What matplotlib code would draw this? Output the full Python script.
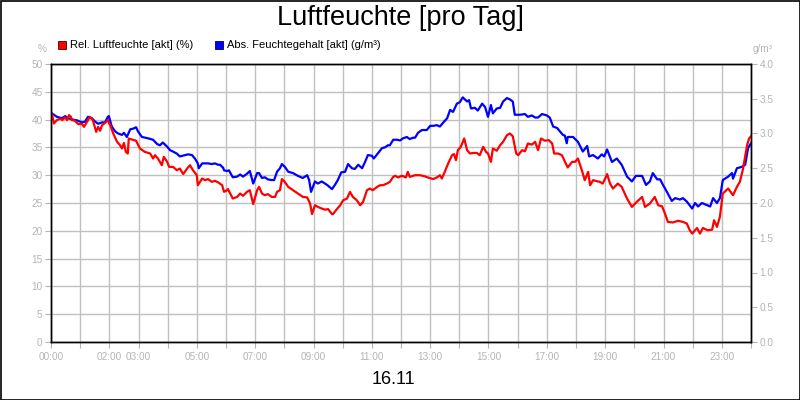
import matplotlib
matplotlib.use("Agg")
import matplotlib.pyplot as plt
from matplotlib.patches import Rectangle
import numpy as np

plt.rcParams['font.family'] = ['Liberation Sans', 'DejaVu Sans']

# ---- data (time in minutes after midnight) ----
red_min = [0, 2, 6, 12, 19, 23, 29, 33, 37, 41, 43, 49, 56, 64, 68, 76, 80, 86, 93, 97,
           101, 105, 111, 117, 123, 128, 136, 142, 146, 150, 154, 158, 160, 167, 175, 183,
           193, 204, 210, 214, 220, 228, 232, 239, 243, 251, 259, 265, 272, 280, 286, 292,
           300, 302, 311, 317, 323, 331, 337, 344, 352, 356, 362, 364, 374, 383, 389, 395,
           403, 409, 416, 424, 428, 434, 440, 446, 454, 461, 465, 471, 475, 481, 488, 498,
           508, 518, 527, 533, 537, 543, 549, 557, 564, 570, 578, 580, 588, 595, 601, 609,
           615, 621, 629, 636, 642, 650, 656, 662, 671, 677, 683, 691, 697, 704, 708, 714,
           722, 730, 734, 738, 749, 759, 769, 775, 786, 794, 800, 804, 810, 817, 825, 829,
           833, 837, 843, 850, 856, 862, 868, 876, 882, 889, 895, 899, 905, 909, 917, 924,
           930, 938, 944, 950, 957, 961, 969, 975, 981, 989, 996, 1002, 1008, 1016, 1024,
           1031, 1035, 1043, 1051, 1059, 1063, 1072, 1078, 1084, 1092, 1098, 1105, 1109,
           1115, 1129, 1135, 1140, 1144, 1150, 1156, 1166, 1174, 1185, 1195, 1205, 1216,
           1222, 1232, 1242, 1249, 1257, 1263, 1269, 1279, 1290, 1300, 1308, 1314, 1319,
           1329, 1335, 1341, 1351, 1360, 1364, 1370, 1376, 1382, 1393, 1403, 1411, 1417,
           1423, 1432, 1436, 1440]
red_val = [40.6, 41.0, 39.3, 39.9, 40.2, 39.9, 40.4, 39.9, 40.8, 40.5, 39.9, 39.8, 39.2, 39.2,
           38.7, 39.9, 40.5, 39.9, 37.8, 38.7, 38.0, 39.0, 39.4, 39.9, 38.7, 37.5, 36.0, 35.4,
           34.8, 35.8, 34.2, 33.9, 36.6, 36.4, 36.2, 34.8, 34.2, 33.9, 33.0, 33.6, 33.0, 31.8,
           33.3, 32.4, 31.5, 31.5, 30.9, 31.2, 30.2, 31.2, 31.8, 30.9, 30.0, 28.2, 29.4, 29.1,
           29.3, 28.8, 29.0, 28.7, 28.2, 27.0, 27.3, 27.5, 25.8, 26.1, 26.7, 26.3, 27.0, 27.3,
           24.8, 27.3, 27.9, 26.7, 26.4, 26.6, 26.1, 26.1, 27.0, 27.3, 29.3, 28.8, 27.9, 27.3,
           26.7, 26.1, 26.0, 24.9, 23.0, 24.6, 24.3, 24.0, 23.8, 23.9, 23.0, 23.0, 23.9, 24.6,
           25.5, 25.8, 27.0, 26.1, 25.5, 24.6, 25.2, 27.3, 27.6, 27.3, 27.9, 28.2, 28.2, 28.5,
           28.8, 29.7, 29.9, 29.6, 29.9, 29.6, 30.6, 29.7, 30.0, 30.0, 29.8, 29.6, 29.3, 29.6,
           30.0, 29.4, 30.6, 32.1, 33.6, 33.8, 32.7, 34.5, 35.1, 36.6, 34.5, 33.9, 34.0, 34.0,
           33.6, 35.1, 34.2, 33.9, 32.4, 34.8, 34.4, 35.4, 36.0, 37.2, 37.5, 37.0, 33.9, 33.6,
           34.5, 34.3, 35.7, 35.5, 36.0, 34.5, 36.6, 36.2, 36.3, 35.7, 33.9, 33.9, 33.6, 32.1,
           31.4, 32.4, 32.4, 33.0, 30.9, 29.1, 30.6, 28.2, 29.1, 28.8, 28.5, 29.4, 30.2, 28.5,
           27.6, 28.5, 27.9, 25.8, 24.3, 25.2, 26.1, 24.3, 24.9, 26.1, 24.6, 24.4, 23.1, 21.6,
           21.5, 21.8, 21.6, 21.3, 20.1, 19.5, 20.5, 19.5, 20.5, 20.1, 20.2, 21.9, 20.7, 22.5,
           26.7, 27.6, 26.4, 27.9, 28.8, 30.9, 35.4, 36.6, 37.0]

blue_min = [0, 2, 12, 23, 29, 35, 45, 53, 64, 70, 76, 84, 91, 97, 105, 111, 117, 119, 125,
            132, 138, 146, 150, 156, 163, 169, 175, 179, 187, 200, 210, 218, 224, 230, 239,
            245, 251, 259, 265, 276, 282, 290, 296, 302, 304, 311, 317, 323, 331, 337, 344,
            348, 352, 354, 356, 362, 366, 374, 383, 389, 395, 403, 409, 416, 424, 428, 434,
            440, 446, 454, 459, 465, 471, 475, 481, 488, 498, 508, 518, 527, 531, 535, 543,
            549, 557, 568, 578, 584, 590, 597, 605, 611, 619, 625, 632, 640, 646, 652, 660,
            664, 673, 681, 687, 693, 697, 704, 712, 718, 724, 732, 738, 745, 749, 755, 763,
            773, 780, 786, 794, 800, 806, 815, 821, 827, 835, 841, 847, 856, 860, 864, 872,
            878, 887, 893, 899, 905, 909, 917, 924, 930, 938, 944, 950, 954, 965, 975, 981,
            989, 996, 1002, 1010, 1020, 1026, 1033, 1041, 1047, 1053, 1057, 1061, 1063, 1074,
            1084, 1094, 1103, 1107, 1115, 1125, 1133, 1138, 1144, 1154, 1164, 1174, 1185,
            1195, 1203, 1216, 1224, 1232, 1238, 1247, 1253, 1259, 1267, 1277, 1284, 1294,
            1300, 1308, 1319, 1325, 1331, 1339, 1349, 1356, 1362, 1370, 1376, 1382, 1393,
            1401, 1403, 1411, 1421, 1428, 1434, 1440]
blue_val = [3.27, 3.29, 3.24, 3.22, 3.25, 3.22, 3.20, 3.19, 3.16, 3.17, 3.24, 3.22, 3.17, 3.14,
            3.16, 3.16, 3.24, 3.25, 3.10, 3.03, 3.00, 2.98, 3.01, 2.95, 3.06, 3.07, 3.09, 3.03,
            2.95, 2.93, 2.91, 2.85, 2.83, 2.87, 2.81, 2.76, 2.74, 2.71, 2.67, 2.69, 2.70, 2.69,
            2.64, 2.57, 2.50, 2.57, 2.57, 2.57, 2.56, 2.57, 2.55, 2.55, 2.52, 2.51, 2.47, 2.46,
            2.47, 2.37, 2.38, 2.41, 2.38, 2.42, 2.46, 2.28, 2.43, 2.43, 2.36, 2.37, 2.34, 2.33,
            2.33, 2.45, 2.50, 2.56, 2.52, 2.45, 2.43, 2.39, 2.36, 2.40, 2.33, 2.16, 2.31, 2.28,
            2.31, 2.26, 2.20, 2.26, 2.33, 2.44, 2.45, 2.56, 2.50, 2.49, 2.55, 2.50, 2.59, 2.69,
            2.68, 2.64, 2.72, 2.79, 2.80, 2.83, 2.83, 2.91, 2.91, 2.90, 2.93, 2.95, 2.92, 2.94,
            2.94, 3.01, 3.05, 3.05, 3.11, 3.11, 3.12, 3.10, 3.15, 3.22, 3.34, 3.31, 3.43, 3.45,
            3.52, 3.46, 3.48, 3.36, 3.37, 3.33, 3.43, 3.38, 3.24, 3.41, 3.29, 3.36, 3.37, 3.46,
            3.51, 3.49, 3.46, 3.27, 3.27, 3.28, 3.24, 3.26, 3.23, 3.23, 3.28, 3.26, 3.23, 3.10,
            3.08, 3.03, 2.98, 2.97, 2.86, 2.95, 2.95, 2.88, 2.74, 2.82, 2.67, 2.69, 2.64, 2.70,
            2.67, 2.77, 2.59, 2.64, 2.55, 2.38, 2.31, 2.39, 2.39, 2.26, 2.31, 2.43, 2.34, 2.34,
            2.26, 2.16, 2.03, 2.07, 2.05, 2.07, 2.02, 1.92, 2.00, 1.95, 2.00, 1.97, 1.95, 2.07,
            2.00, 2.07, 2.33, 2.38, 2.43, 2.35, 2.50, 2.52, 2.55, 2.79, 2.86]

x_tick_labels = ["00:00", "", "02:00", "03:00", "", "05:00", "", "07:00", "", "09:00", "",
                 "11:00", "", "13:00", "", "15:00", "", "17:00", "", "19:00", "", "21:00", "",
                 "23:00", ""]
left_ticks = [0, 5, 10, 15, 20, 25, 30, 35, 40, 45, 50]
right_ticks = [0.0, 0.5, 1.0, 1.5, 2.0, 2.5, 3.0, 3.5, 4.0]

title = "Luftfeuchte [pro Tag]"
date_label = "16.11"
series_names = ["Rel. Luftfeuchte [akt] (%)", "Abs. Feuchtegehalt [akt] (g/m³)"]
series_colors = ["#ff0000", "#0000ff"]

TICK_C = "#b4b4b4"
GRID_C = "#c0c0c0"

fig = plt.figure(figsize=(8, 4), dpi=100)
fig.patch.set_facecolor("white")
ax = fig.add_axes([51 / 800, 58 / 400, 700 / 800, 278 / 400])
ax2 = ax.twinx()

ax.set_xlim(0, 24)
ax.set_ylim(0, 50)
ax2.set_ylim(0, 4)

red_h = np.array(red_min) / 60.0
blue_h = np.array(blue_min) / 60.0

ax2.plot(blue_h, blue_val, color=series_colors[1], lw=1.6, solid_joinstyle="round")
ax2.plot(red_h, red_val, color=series_colors[0], lw=1.6, solid_joinstyle="round",
         transform=ax.transData)
ax2.set_ylim(0, 4)

ax.set_xticks(np.arange(0, 25, 1))
ax.set_xticklabels(x_tick_labels)
ax.set_yticks(left_ticks)
ax.set_yticklabels([str(v) for v in left_ticks])
ax2.set_yticks(right_ticks)
ax2.set_yticklabels([f"{v:.1f}" for v in right_ticks])

ax.grid(True, color=GRID_C, lw=1.0)
ax.set_axisbelow(True)

for a in (ax, ax2):
    a.tick_params(colors=TICK_C, labelcolor=TICK_C, labelsize=7.2, length=4, width=0.8,
                  direction="out")
    for s in a.spines.values():
        s.set_color("black")
        s.set_linewidth(1.0)
ax.tick_params(axis="x", pad=3)
ax.tick_params(axis="y", pad=2)
ax2.tick_params(axis="y", pad=2)

# titles / labels
fig.text(0.5, 1 - 18 / 400, title, ha="center", va="center", fontsize=19.5, color="black")
fig.text(393 / 800, 1 - 380 / 400, date_label, ha="center", va="center", fontsize=13,
         color="black")
fig.text(47 / 800, 1 - 49 / 400, "%", ha="right", va="center", fontsize=7.2, color=TICK_C)
fig.text(753 / 800, 1 - 49 / 400, "g/m³", ha="left", va="center", fontsize=7.2, color=TICK_C)

# legend
leg_x = [58, 215]
for i, (name, col) in enumerate(zip(series_names, series_colors)):
    x0 = leg_x[i]
    fig.patches.append(Rectangle((x0 / 800, 1 - 49 / 400), 8 / 800, 8 / 400,
                                 transform=fig.transFigure, facecolor=col,
                                 edgecolor="#400000" if i == 0 else "#000040", lw=0.6))
    fig.text((x0 + 12) / 800, 1 - 45 / 400, name, ha="left", va="center", fontsize=8,
             color="black")

# outer border
fig.patches.append(Rectangle((0.5 / 800, 0.5 / 400), 799 / 800, 399 / 400,
                             transform=fig.transFigure, facecolor="none",
                             edgecolor="black", lw=1.2))

fig.savefig("out.png", dpi=100)
